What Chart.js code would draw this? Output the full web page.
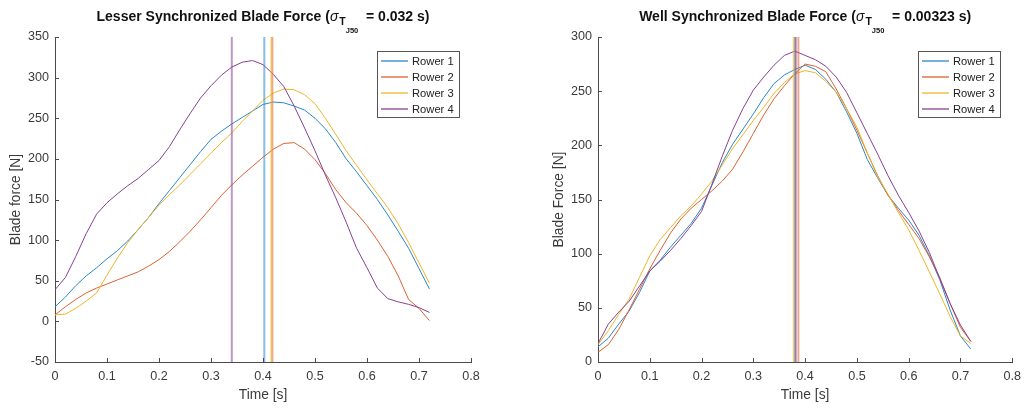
<!DOCTYPE html>
<html>
<head>
<meta charset="utf-8">
<script src="https://cdn.jsdelivr.net/npm/chart.js@4.4.1/dist/chart.umd.min.js"></script>
<style>
  body { margin: 0; background: #fff; }
  #wrap { position: relative; width: 1028px; height: 408px; }
  canvas { position: absolute; top: 0; }
</style>
</head>
<body>
<div id="wrap">
  <canvas id="lesser" width="514" height="408" style="left:0"></canvas>
  <canvas id="well" width="514" height="408" style="left:514px"></canvas>
</div>
<script>
const time = [0, 0.02, 0.04, 0.06, 0.08, 0.1, 0.12, 0.14, 0.16, 0.18, 0.2, 0.22, 0.24, 0.26, 0.28, 0.3, 0.32, 0.34, 0.36,
  0.38, 0.4, 0.42, 0.44, 0.46, 0.48, 0.5, 0.52, 0.54, 0.56, 0.58, 0.6, 0.62, 0.64, 0.66, 0.68, 0.7, 0.72];
const rowers = ['Rower 1', 'Rower 2', 'Rower 3', 'Rower 4'];
const colors = ['#2a88c8', '#dc6230', '#eeb52a', '#884096'];

// left plot: lesser synchronized
const lesserR1 = [18, 30, 44, 56, 66, 77, 87, 99, 113, 128, 145, 161, 177, 193, 209, 224, 234, 243, 251,
  259, 267, 270, 269, 265, 260, 250, 237, 220, 200, 184, 167, 150, 131, 111, 90, 65, 40];
const lesserR2 = [8, 18, 27, 35, 41, 46, 51, 56, 61, 68, 76, 86, 98, 111, 125, 140, 155, 168, 180,
  191, 202, 212, 219, 220, 212, 199, 182, 162, 146, 133, 118, 100, 80, 56, 27, 16, 1];
const lesserR3 = [8, 9, 16, 25, 35, 57, 78, 97, 113, 128, 143, 156, 168, 181, 194, 207, 220, 232, 246,
  259, 272, 281, 286, 285, 279, 268, 250, 230, 210, 192, 174, 157, 140, 120, 97, 72, 47];
const lesserR4 = [39, 54, 80, 108, 132, 146, 157, 167, 176, 187, 198, 215, 236, 256, 275, 290, 303, 313, 319,
  321, 316, 304, 289, 265, 238, 210, 180, 152, 122, 90, 66, 41, 28, 24, 21, 17, 11];
const lesserTJ50 = [0.4025, 0.418, 0.416, 0.34];

// right plot: well synchronized
const wellR1 = [14, 22, 35, 47, 64, 84, 94, 106, 117, 128, 142, 163, 184, 201, 215, 229, 244, 257, 265,
  270, 274, 270, 261, 249, 231, 211, 187, 170, 154, 142, 131, 117, 98, 76, 48, 24, 12];
const wellR2 = [9, 16, 30, 48, 67, 86, 103, 119, 132, 142, 150, 158, 167, 178, 194, 211, 228, 243, 255,
  266, 275, 273, 268, 252, 234, 214, 193, 172, 154, 140, 127, 114, 97, 78, 54, 32, 19];
const wellR3 = [16, 29, 44, 58, 78, 98, 113, 124, 135, 144, 155, 167, 182, 197, 210, 223, 235, 248, 258,
  266, 269, 267, 259, 249, 234, 217, 193, 171, 155, 138, 122, 103, 83, 63, 42, 24, 17];
const wellR4 = [17, 35, 46, 56, 70, 84, 93, 103, 114, 126, 139, 164, 190, 214, 234, 251, 263, 274, 283,
  287, 283, 279, 273, 263, 249, 230, 211, 192, 172, 154, 138, 121, 101, 77, 54, 34, 19];
const wellTJ50 = [0.380, 0.387, 0.378, 0.382];

const xTicks = [0, 0.8, 0.1];
const lesserYTicks = [-50, 350, 50];
const wellYTicks = [0, 300, 50];

const FONT = "'Liberation Sans', Arial, sans-serif";
const axisColor = '#4a4a4a';
const textColor = '#3a3a3a';

function fade(hex, a) {
  const n = parseInt(hex.slice(1), 16);
  return `rgba(${n >> 16}, ${(n >> 8) & 255}, ${n & 255}, ${a})`;
}

// MATLAB style ticks pointing into the plot
const inwardTicks = {
  id: 'inwardTicks',
  afterDatasetsDraw(chart) {
    const { ctx, chartArea, scales: { x, y } } = chart;
    ctx.save();
    ctx.strokeStyle = axisColor;
    ctx.lineWidth = 1;
    ctx.beginPath();
    x.ticks.forEach(t => {
      const px = Math.round(x.getPixelForValue(t.value)) + 0.5;
      ctx.moveTo(px, chartArea.bottom);
      ctx.lineTo(px, chartArea.bottom - 4);
    });
    y.ticks.forEach(t => {
      const py = Math.round(y.getPixelForValue(t.value)) + 0.5;
      ctx.moveTo(chartArea.left, py);
      ctx.lineTo(chartArea.left + 4, py);
    });
    ctx.stroke();
    ctx.restore();
  }
};

// title with sigma_{T_{J50}}
const sigmaTitle = {
  id: 'sigmaTitle',
  afterDraw(chart, args, opts) {
    const { ctx, chartArea } = chart;
    const cx = (chartArea.left + chartArea.right) / 2;
    const big = 'bold 14px ' + FONT;
    const sig = 'italic 14px ' + FONT;
    const sub = 'bold 10.5px ' + FONT;
    const subsub = 'bold 7.5px ' + FONT;
    const tail = '  = ' + opts.value;
    ctx.save();
    ctx.fillStyle = '#111';
    ctx.textBaseline = 'alphabetic';
    ctx.textAlign = 'left';
    ctx.font = big; const w1 = ctx.measureText(opts.head).width; const w5 = ctx.measureText(tail).width;
    ctx.font = sig; const w2 = ctx.measureText('\u03c3').width + 1;
    ctx.font = sub; const w3 = ctx.measureText('T').width;
    ctx.font = subsub; const w4 = ctx.measureText('J50').width;
    let x = cx - (w1 + w2 + w3 + w4 + w5) / 2;
    const base = 21;
    ctx.font = big; ctx.fillText(opts.head, x, base); x += w1;
    ctx.font = sig; ctx.fillText('\u03c3', x, base); x += w2;
    ctx.font = sub; ctx.fillText('T', x, base + 4); x += w3;
    ctx.font = subsub; ctx.fillText('J50', x, base + 12); x += w4;
    ctx.font = big; ctx.fillText(tail, x, base);
    ctx.restore();
  }
};

// legend box in the upper right of the plot
const boxLegend = {
  id: 'boxLegend',
  afterDraw(chart) {
    const { ctx, chartArea } = chart;
    const w = 82, h = 66;
    const left = Math.round(chartArea.right - 12 - w);
    const top = Math.round(chartArea.top + 14);
    ctx.save();
    ctx.fillStyle = '#fff';
    ctx.fillRect(left, top, w, h);
    ctx.strokeStyle = '#555';
    ctx.lineWidth = 1;
    ctx.strokeRect(left + 0.5, top + 0.5, w, h);
    ctx.font = '11.2px ' + FONT;
    ctx.textBaseline = 'middle';
    ctx.textAlign = 'left';
    rowers.forEach((name, i) => {
      const y = top + 10 + i * 16;
      ctx.beginPath();
      ctx.strokeStyle = colors[i];
      ctx.lineWidth = 1.3;
      ctx.moveTo(left + 4, y);
      ctx.lineTo(left + 31, y);
      ctx.stroke();
      ctx.fillStyle = '#222';
      ctx.fillText(name, left + 35, y + 0.5);
    });
    ctx.restore();
  }
};

function buildChart(id, series, tj50, yTicks, yLabel, head, value, yWidth, rightPad, yTitlePad) {
  const datasets = series.map((vals, i) => ({
    label: rowers[i],
    data: time.map((t, k) => ({ x: t, y: vals[k] })),
    borderColor: colors[i],
    borderWidth: 1,
    pointRadius: 0,
    tension: 0,
    fill: false,
    order: 10 - i
  }));
  tj50.forEach((t, i) => {
    datasets.push({
      label: rowers[i] + ' TJ50',
      data: [{ x: t, y: yTicks[0] }, { x: t, y: yTicks[1] }],
      borderColor: fade(colors[i], 0.55),
      borderWidth: 2,
      pointRadius: 0,
      fill: false,
      order: 4 - i
    });
  });
  const tickFont = { family: FONT, size: 12.6 };
  const labelFont = { family: FONT, size: 13.8 };
  return new Chart(document.getElementById(id), {
    type: 'line',
    data: { datasets },
    options: {
      responsive: false,
      animation: false,
      devicePixelRatio: 1,
      layout: { padding: { left: 0, right: rightPad, top: 37, bottom: 0 } },
      plugins: {
        legend: { display: false },
        tooltip: { enabled: false },
        sigmaTitle: { head, value }
      },
      scales: {
        x: {
          type: 'linear',
          min: xTicks[0], max: xTicks[1],
          ticks: { stepSize: xTicks[2], autoSkip: false, maxRotation: 0, font: tickFont, color: textColor, padding: 7,
            callback: v => String(Math.round(v * 10) / 10) },
          grid: { display: false, drawTicks: false },
          border: { display: true, color: axisColor, width: 1 },
          title: { display: true, text: 'Time [s]', font: labelFont, color: textColor, padding: { top: 0, bottom: 5 } },
          afterFit: s => { s.height = 46; }
        },
        y: {
          type: 'linear',
          min: yTicks[0], max: yTicks[1],
          ticks: { stepSize: yTicks[2], font: tickFont, color: textColor, padding: 6 },
          grid: { display: false, drawTicks: false },
          border: { display: true, color: axisColor, width: 1 },
          title: { display: true, text: yLabel, font: labelFont, color: textColor, padding: { top: yTitlePad, bottom: 0 } },
          afterFit: s => { s.width = yWidth; }
        }
      }
    },
    plugins: [inwardTicks, sigmaTitle, boxLegend]
  });
}

buildChart('lesser', [lesserR1, lesserR2, lesserR3, lesserR4], lesserTJ50, lesserYTicks,
  'Blade force [N]', 'Lesser Synchronized Blade Force (', '0.032 s)', 55, 43, 7.7);
buildChart('well', [wellR1, wellR2, wellR3, wellR4], wellTJ50, wellYTicks,
  'Blade Force [N]', 'Well Synchronized Blade Force (', '0.00323 s)', 84, 14, 36.7);
</script>
</body>
</html>
